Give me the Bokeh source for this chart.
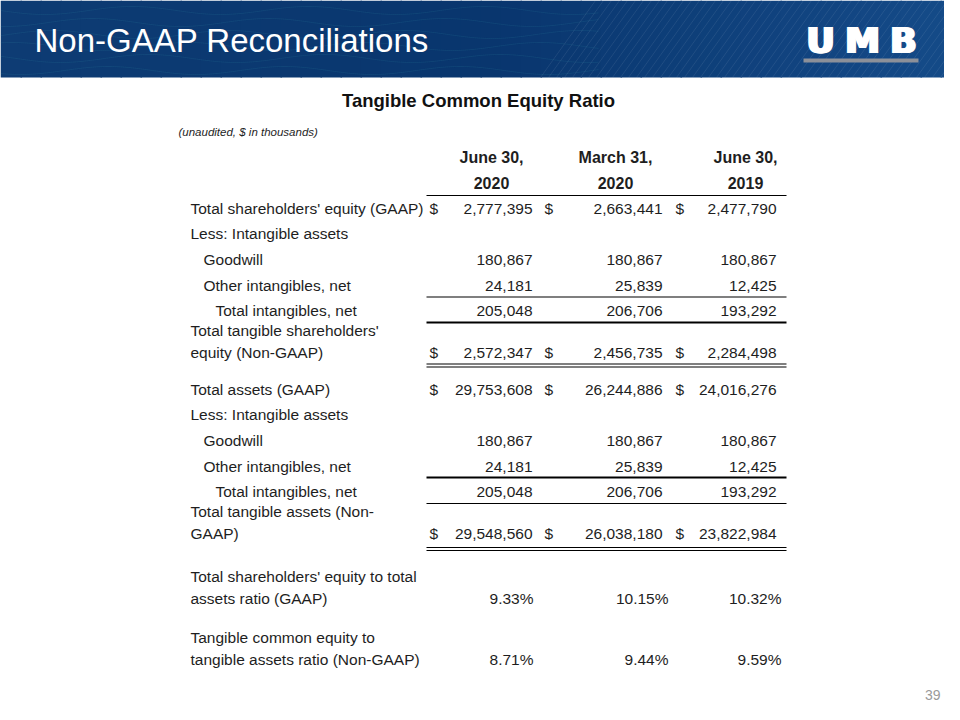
from bokeh.plotting import figure
from bokeh.models import Range1d
from bokeh.core.properties import value
from bokeh.embed import file_html
from bokeh.resources import INLINE
import math

# ---------------- data ----------------
periods_line1 = ["June 30,", "March 31,", "June 30,"]
periods_line2 = ["2020", "2020", "2019"]

row_labels = [
    "Total shareholders' equity (GAAP)",
    "Less: Intangible assets",
    "Goodwill",
    "Other intangibles, net",
    "Total intangibles, net",
    "Total tangible shareholders'\nequity (Non-GAAP)",
    "Total assets (GAAP)",
    "Less: Intangible assets",
    "Goodwill",
    "Other intangibles, net",
    "Total intangibles, net",
    "Total tangible assets (Non-\nGAAP)",
    "Total shareholders' equity to total\nassets ratio (GAAP)",
    "Tangible common equity to\ntangible assets ratio (Non-GAAP)",
]
row_indent = [0, 0, 1, 1, 2, 0, 0, 0, 1, 1, 2, 0, 0, 0]
row_kind = ["usd", "none", "num", "num", "num", "usd", "usd", "none", "num", "num", "num", "usd", "pct", "pct"]

jun_2020 = [2777395, None, 180867, 24181, 205048, 2572347, 29753608, None, 180867, 24181, 205048, 29548560, 9.33, 8.71]
mar_2020 = [2663441, None, 180867, 25839, 206706, 2456735, 26244886, None, 180867, 25839, 206706, 26038180, 10.15, 9.44]
jun_2019 = [2477790, None, 180867, 12425, 193292, 2284498, 24016276, None, 180867, 12425, 193292, 23822984, 10.32, 9.59]
columns = [jun_2020, mar_2020, jun_2019]

# ---------------- layout ----------------
row_y = [208, 233, 259, 285, 310, 352, 389, 414, 440, 466, 491, 533, 598, 659]
label_x0 = 190
indent_px = [0, 13, 25]
num_right = [532, 662, 776]
pct_right = [533, 668, 781]
dollar_x = [429, 544, 675]
head_cx = [491, 615, 745]
rule_x0, rule_x1 = 426, 786

FONT = value("Liberation Sans")
TXT = "#1e1e1e"
FS = "15.5px"

p = figure(width=944, height=704, output_backend="svg", toolbar_location=None,
           x_range=Range1d(0, 944), y_range=Range1d(704, 0),
           min_border=0, outline_line_color=None, background_fill_color="white",
           border_fill_color="white")
p.axis.visible = False
p.grid.visible = False

# ---------------- banner ----------------
n = 48
bx = [960 * i / n for i in range(n + 1)]
def mix(t):
    c0 = (14, 60, 116); c1 = (9, 54, 110); c2 = (22, 76, 138)
    if t < 0.5:
        a, b, u = c0, c1, t / 0.5
    else:
        a, b, u = c1, c2, (t - 0.5) / 0.5
    return "#%02x%02x%02x" % tuple(int(a[k] + (b[k] - a[k]) * u) for k in range(3))
p.quad(left=bx[:-1], right=[x + 1.5 for x in bx[1:]], top=[0] * n, bottom=[77] * n,
       fill_color=[mix(i / n) for i in range(n)], line_color=None)
# diagonal stripes on the right
sx0 = [540 + 8 * i for i in range(56)]
p.segment(x0=sx0, y0=[77] * len(sx0), x1=[x + 55 for x in sx0], y1=[0] * len(sx0),
          line_color="white", line_alpha=0.08, line_width=1)
# faint waves on the left
for k in range(6):
    xs = [2 * i for i in range(300)]
    ys = [10 + 12 * k + 4 * math.sin((x + 40 * k) / 28.0) for x in xs]
    p.line(xs, ys, line_color="#3fa7b5", line_alpha=0.12, line_width=1)

p.text(x=[34], y=[40], text=["Non-GAAP Reconciliations"], text_font=FONT,
       text_font_size="33px", text_color="white", text_baseline="middle", text_align="left")

# UMB logo
for off in (-1.4, 0, 1.4):
    p.text(x=[820 + off, 862 + off, 903 + off], y=[40, 40, 40], text=["U", "M", "B"],
           text_font=value("DejaVu Sans"), text_font_style="bold", text_font_size="35px",
           text_color="white", text_baseline="middle", text_align="center")
p.quad(left=[803], right=[918], top=[58], bottom=[62], fill_color="#8c9099", line_color=None)

# ---------------- titles ----------------
p.text(x=[478], y=[100], text=["Tangible Common Equity Ratio"], text_font=FONT,
       text_font_style="bold", text_font_size="18.5px", text_color="#111111",
       text_baseline="middle", text_align="center")
p.text(x=[178], y=[131], text=["(unaudited, $ in thousands)"], text_font=FONT,
       text_font_style="italic", text_font_size="11.5px", text_color=TXT,
       text_baseline="middle", text_align="left")

# column headers
p.text(x=head_cx, y=[157] * 3, text=periods_line1, text_font=FONT, text_font_style="bold",
       text_font_size="16px", text_color=TXT, text_baseline="middle", text_align="center")
p.text(x=head_cx, y=[182] * 3, text=periods_line2, text_font=FONT, text_font_style="bold",
       text_font_size="16px", text_color=TXT, text_baseline="middle", text_align="center")

# ---------------- row labels ----------------
lx, ly, lt = [], [], []
for lab, ind, y in zip(row_labels, row_indent, row_y):
    parts = lab.split("\n")
    for j, part in enumerate(parts):
        lx.append(label_x0 + indent_px[ind])
        ly.append(y - 22 * (len(parts) - 1 - j))
        lt.append(part)
p.text(x=lx, y=ly, text=lt, text_font=FONT, text_font_size=FS, text_color=TXT,
       text_baseline="middle", text_align="left")

# ---------------- values ----------------
vx, vy, vt, dx, dy = [], [], [], [], []
for c, col in enumerate(columns):
    for v, kind, y in zip(col, row_kind, row_y):
        if v is None:
            continue
        if kind == "pct":
            vx.append(pct_right[c]); vt.append(f"{v:.2f}%")
        else:
            vx.append(num_right[c]); vt.append(f"{v:,}")
        vy.append(y)
        if kind == "usd":
            dx.append(dollar_x[c]); dy.append(y)
p.text(x=vx, y=vy, text=vt, text_font=FONT, text_font_size=FS, text_color=TXT,
       text_baseline="middle", text_align="right")
p.text(x=dx, y=dy, text=["$"] * len(dx), text_font=FONT, text_font_size=FS, text_color=TXT,
       text_baseline="middle", text_align="left")

# ---------------- rules ----------------
rule_y = [195, 296.5, 322, 363.5, 366.5, 477, 503, 547, 550]
rule_w = [1.2, 1.2, 2, 1.2, 1.2, 2, 1.2, 1.2, 1.2]
p.segment(x0=[rule_x0] * len(rule_y), y0=rule_y, x1=[rule_x1] * len(rule_y), y1=rule_y,
          line_color="black", line_width=rule_w)

# page number
p.text(x=[940], y=[694], text=["39"], text_font=FONT, text_font_size="14px",
       text_color="#9a9a9a", text_baseline="middle", text_align="right")

open("out.html", "w").write(file_html(p, INLINE))
